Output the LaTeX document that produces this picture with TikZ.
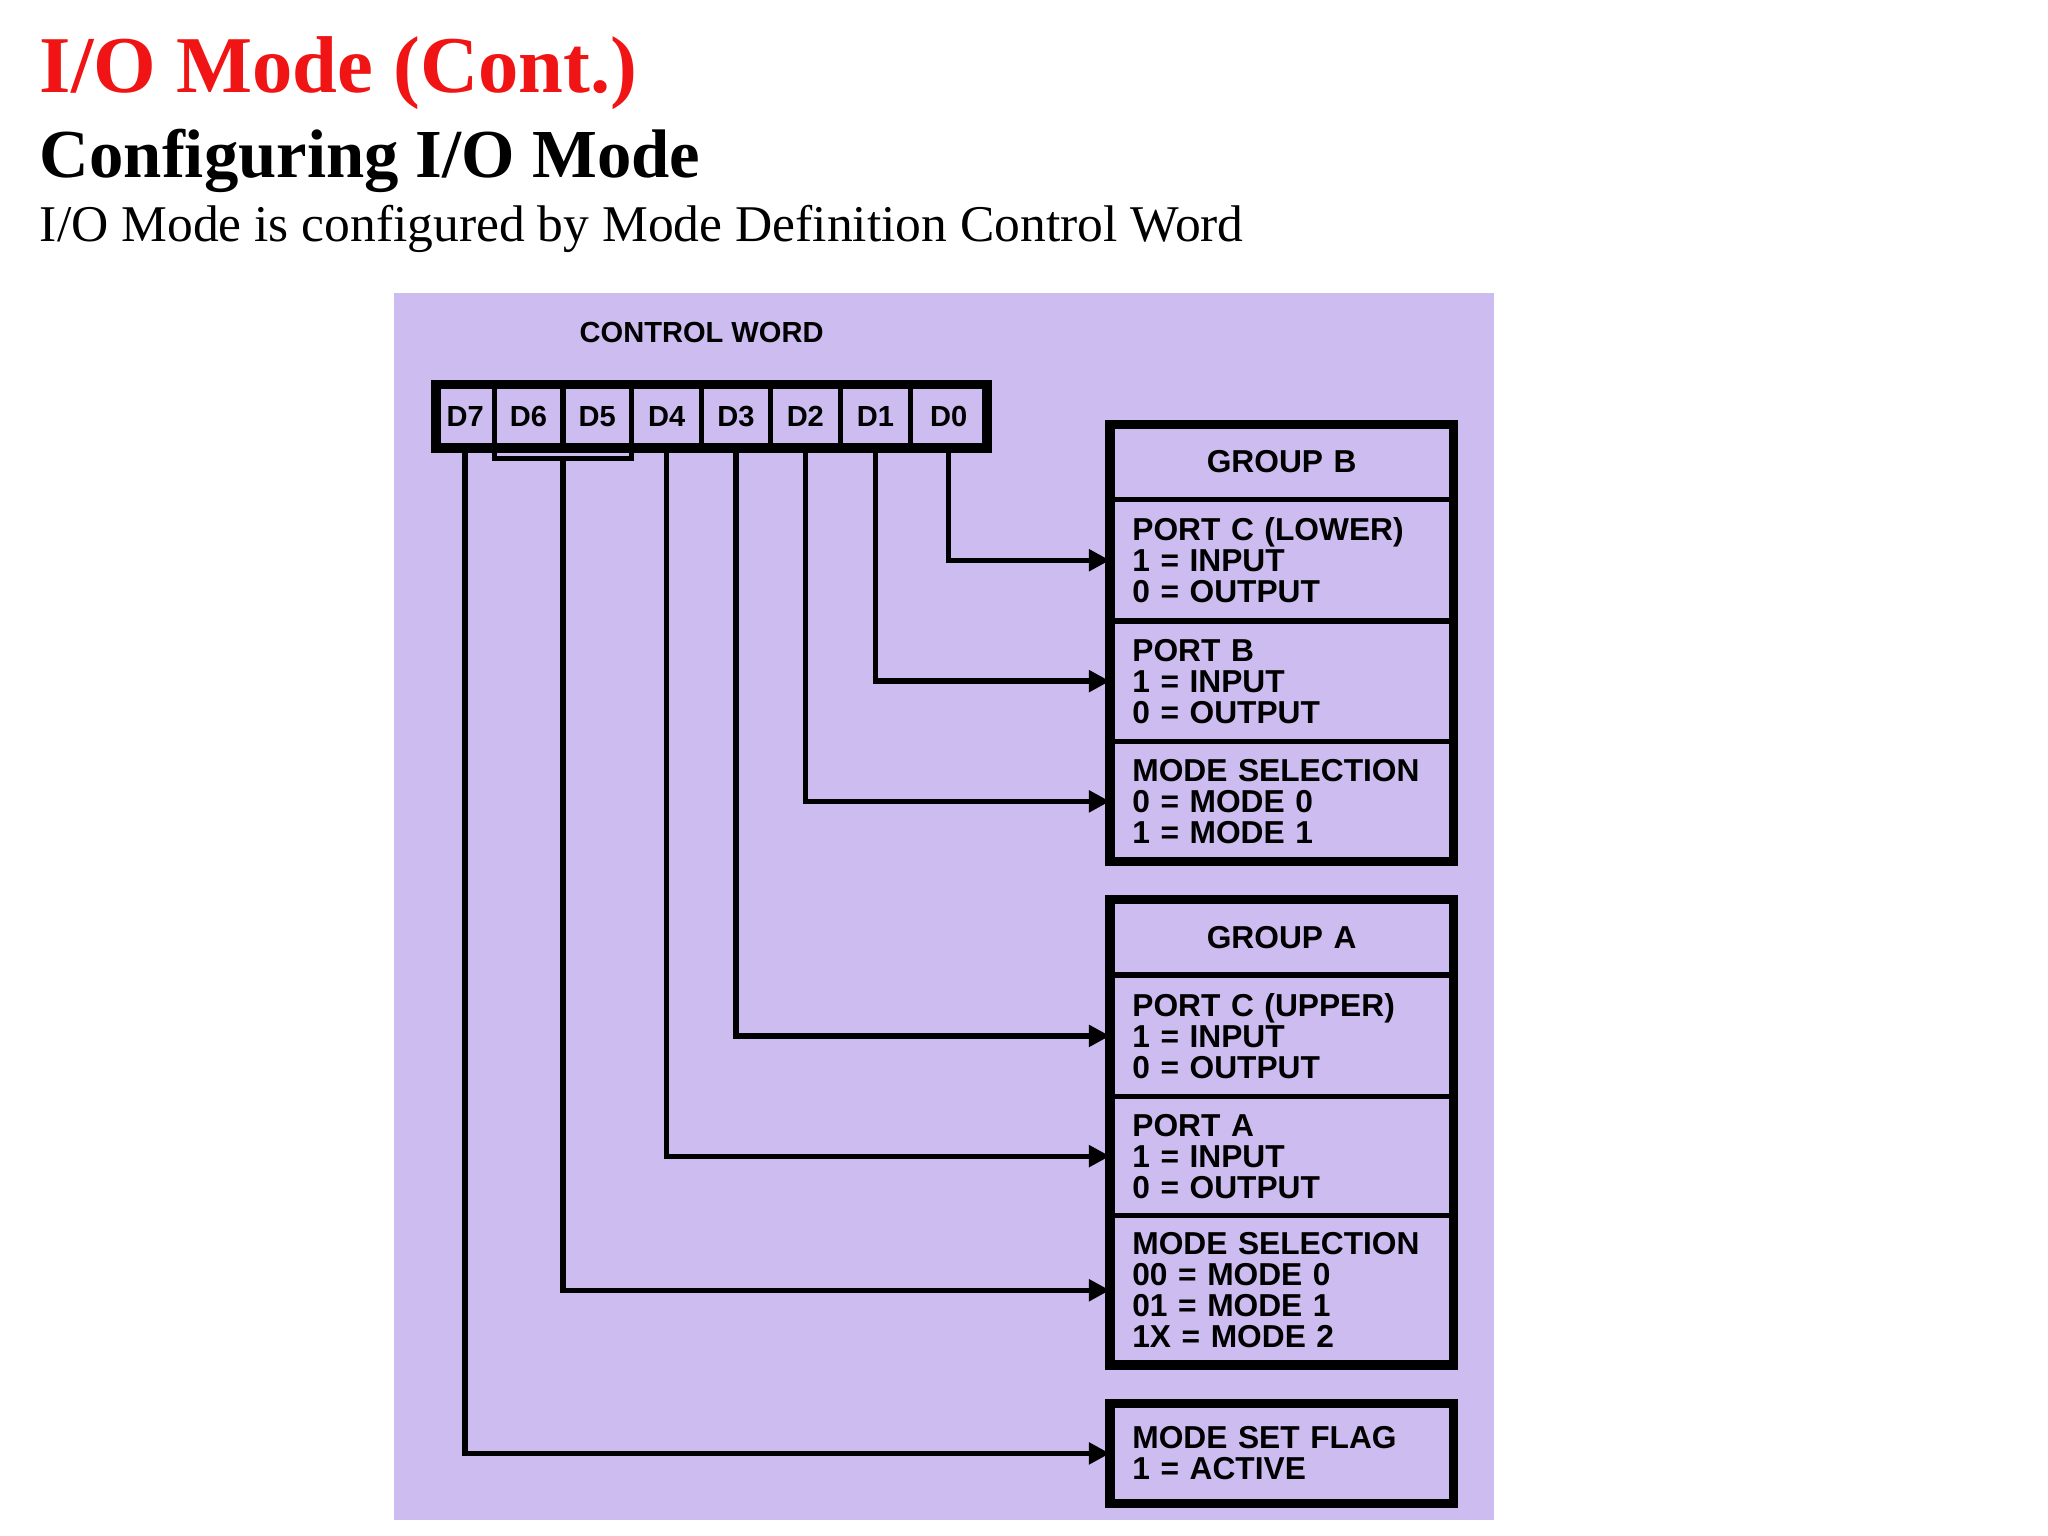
\documentclass[tikz,border=0pt]{standalone}
\usepackage{fontspec}
\setmainfont{Liberation Serif}
\newfontfamily\diagfont{Liberation Sans}
\usetikzlibrary{arrows.meta,calc}
\definecolor{titlered}{RGB}{240,20,20}
\definecolor{lilac}{RGB}{205,188,240}
\begin{document}
\begin{tikzpicture}[x=1pt,y=1pt,
  bit/.style={draw,line width=4,outer sep=0,minimum width=#1,minimum height=48,inner sep=0,
    font=\diagfont\bfseries\fontsize{22}{22}\selectfont},
  sec/.style={draw,line width=4,outer sep=0,anchor=north west,minimum width=260,minimum height=#1,
    text width=226,inner xsep=17,inner ysep=0,align=left,
    font=\diagfont\bfseries\fontsize{24}{23.5}\selectfont},
  head/.style={sec=#1,align=center},
  wire/.style={line width=4,-{Triangle[length=16,width=16]}},
  frame/.style={line width=7}]
\useasboundingbox (0,0) rectangle (1550,-1162);
% headings
\node[anchor=base west,inner sep=0,text=titlered,font=\bfseries\fontsize{61}{61}\selectfont] (t1) at (30,-70) {I/O Mode (Cont.)};
\node[anchor=base west,inner sep=0,font=\bfseries\fontsize{52}{52}\selectfont] (t2) at (30,-134) {Configuring I/O Mode};
\node[anchor=base west,inner sep=0,font=\fontsize{39}{39}\selectfont] (t3) at (30,-183) {I/O Mode is configured by Mode Definition Control Word};
% panel
\fill[lilac] (298,-222) rectangle (1131,-1150);
\node[font=\diagfont\bfseries\fontsize{22}{22}\selectfont] (cw) at (531,-252) {CONTROL WORD};
% control word bits
\node[bit=44,anchor=north west] (d7) at (330,-291) {D7};
\node[bit=52,anchor=west] (d6) at (d7.east) {D6};
\node[bit=52,anchor=west] (d5) at (d6.east) {D5};
\node[bit=53,anchor=west] (d4) at (d5.east) {D4};
\node[bit=52,anchor=west] (d3) at (d4.east) {D3};
\node[bit=53,anchor=west] (d2) at (d3.east) {D2};
\node[bit=53,anchor=west] (d1) at (d2.east) {D1};
\node[bit=58,anchor=west] (d0) at (d1.east) {D0};
\draw[frame] (d7.north west) rectangle (d0.south east);
% group B
\node[head=57] (gb) at (840,-321) {GROUP B};
\node[sec=92] (pcl) at (gb.south west) {PORT C (LOWER)\\1 = INPUT\\0 = OUTPUT};
\node[sec=91] (pb) at (pcl.south west) {PORT B\\1 = INPUT\\0 = OUTPUT};
\node[sec=91] (msb) at (pb.south west) {MODE SELECTION\\0 = MODE 0\\1 = MODE 1};
\draw[frame] (gb.north west) rectangle (msb.south east);
% group A
\node[head=57] (ga) at (840,-681) {GROUP A};
\node[sec=92] (pcu) at (ga.south west) {PORT C (UPPER)\\1 = INPUT\\0 = OUTPUT};
\node[sec=90] (pa) at (pcu.south west) {PORT A\\1 = INPUT\\0 = OUTPUT};
\node[sec=113] (msa) at (pa.south west) {MODE SELECTION\\00 = MODE 0\\01 = MODE 1\\1X = MODE 2};
\draw[frame] (ga.north west) rectangle (msa.south east);
% mode set flag
\node[sec=76] (msf) at (840,-1062) {MODE SET FLAG\\1 = ACTIVE};
\draw[frame] (msf.north west) rectangle (msf.south east);
% connectors
\draw[wire] (d0.south) |- (pcl.west);
\draw[wire] (d1.south) |- (pb.west);
\draw[wire] (d2.south) |- (msb.west);
\draw[wire] (d3.south) |- (pcu.west);
\draw[wire] (d4.south) |- (pa.west);
\draw[wire] (d7.south) |- (msf.west);
\coordinate (br) at ($(d6.south west)!0.5!(d5.south east)+(0,-8)$);
\draw[line width=4] (d6.south west) -- ++(0,-8) -| (d5.south east);
\draw[wire] (br) |- (msa.west);
\end{tikzpicture}
\end{document}
